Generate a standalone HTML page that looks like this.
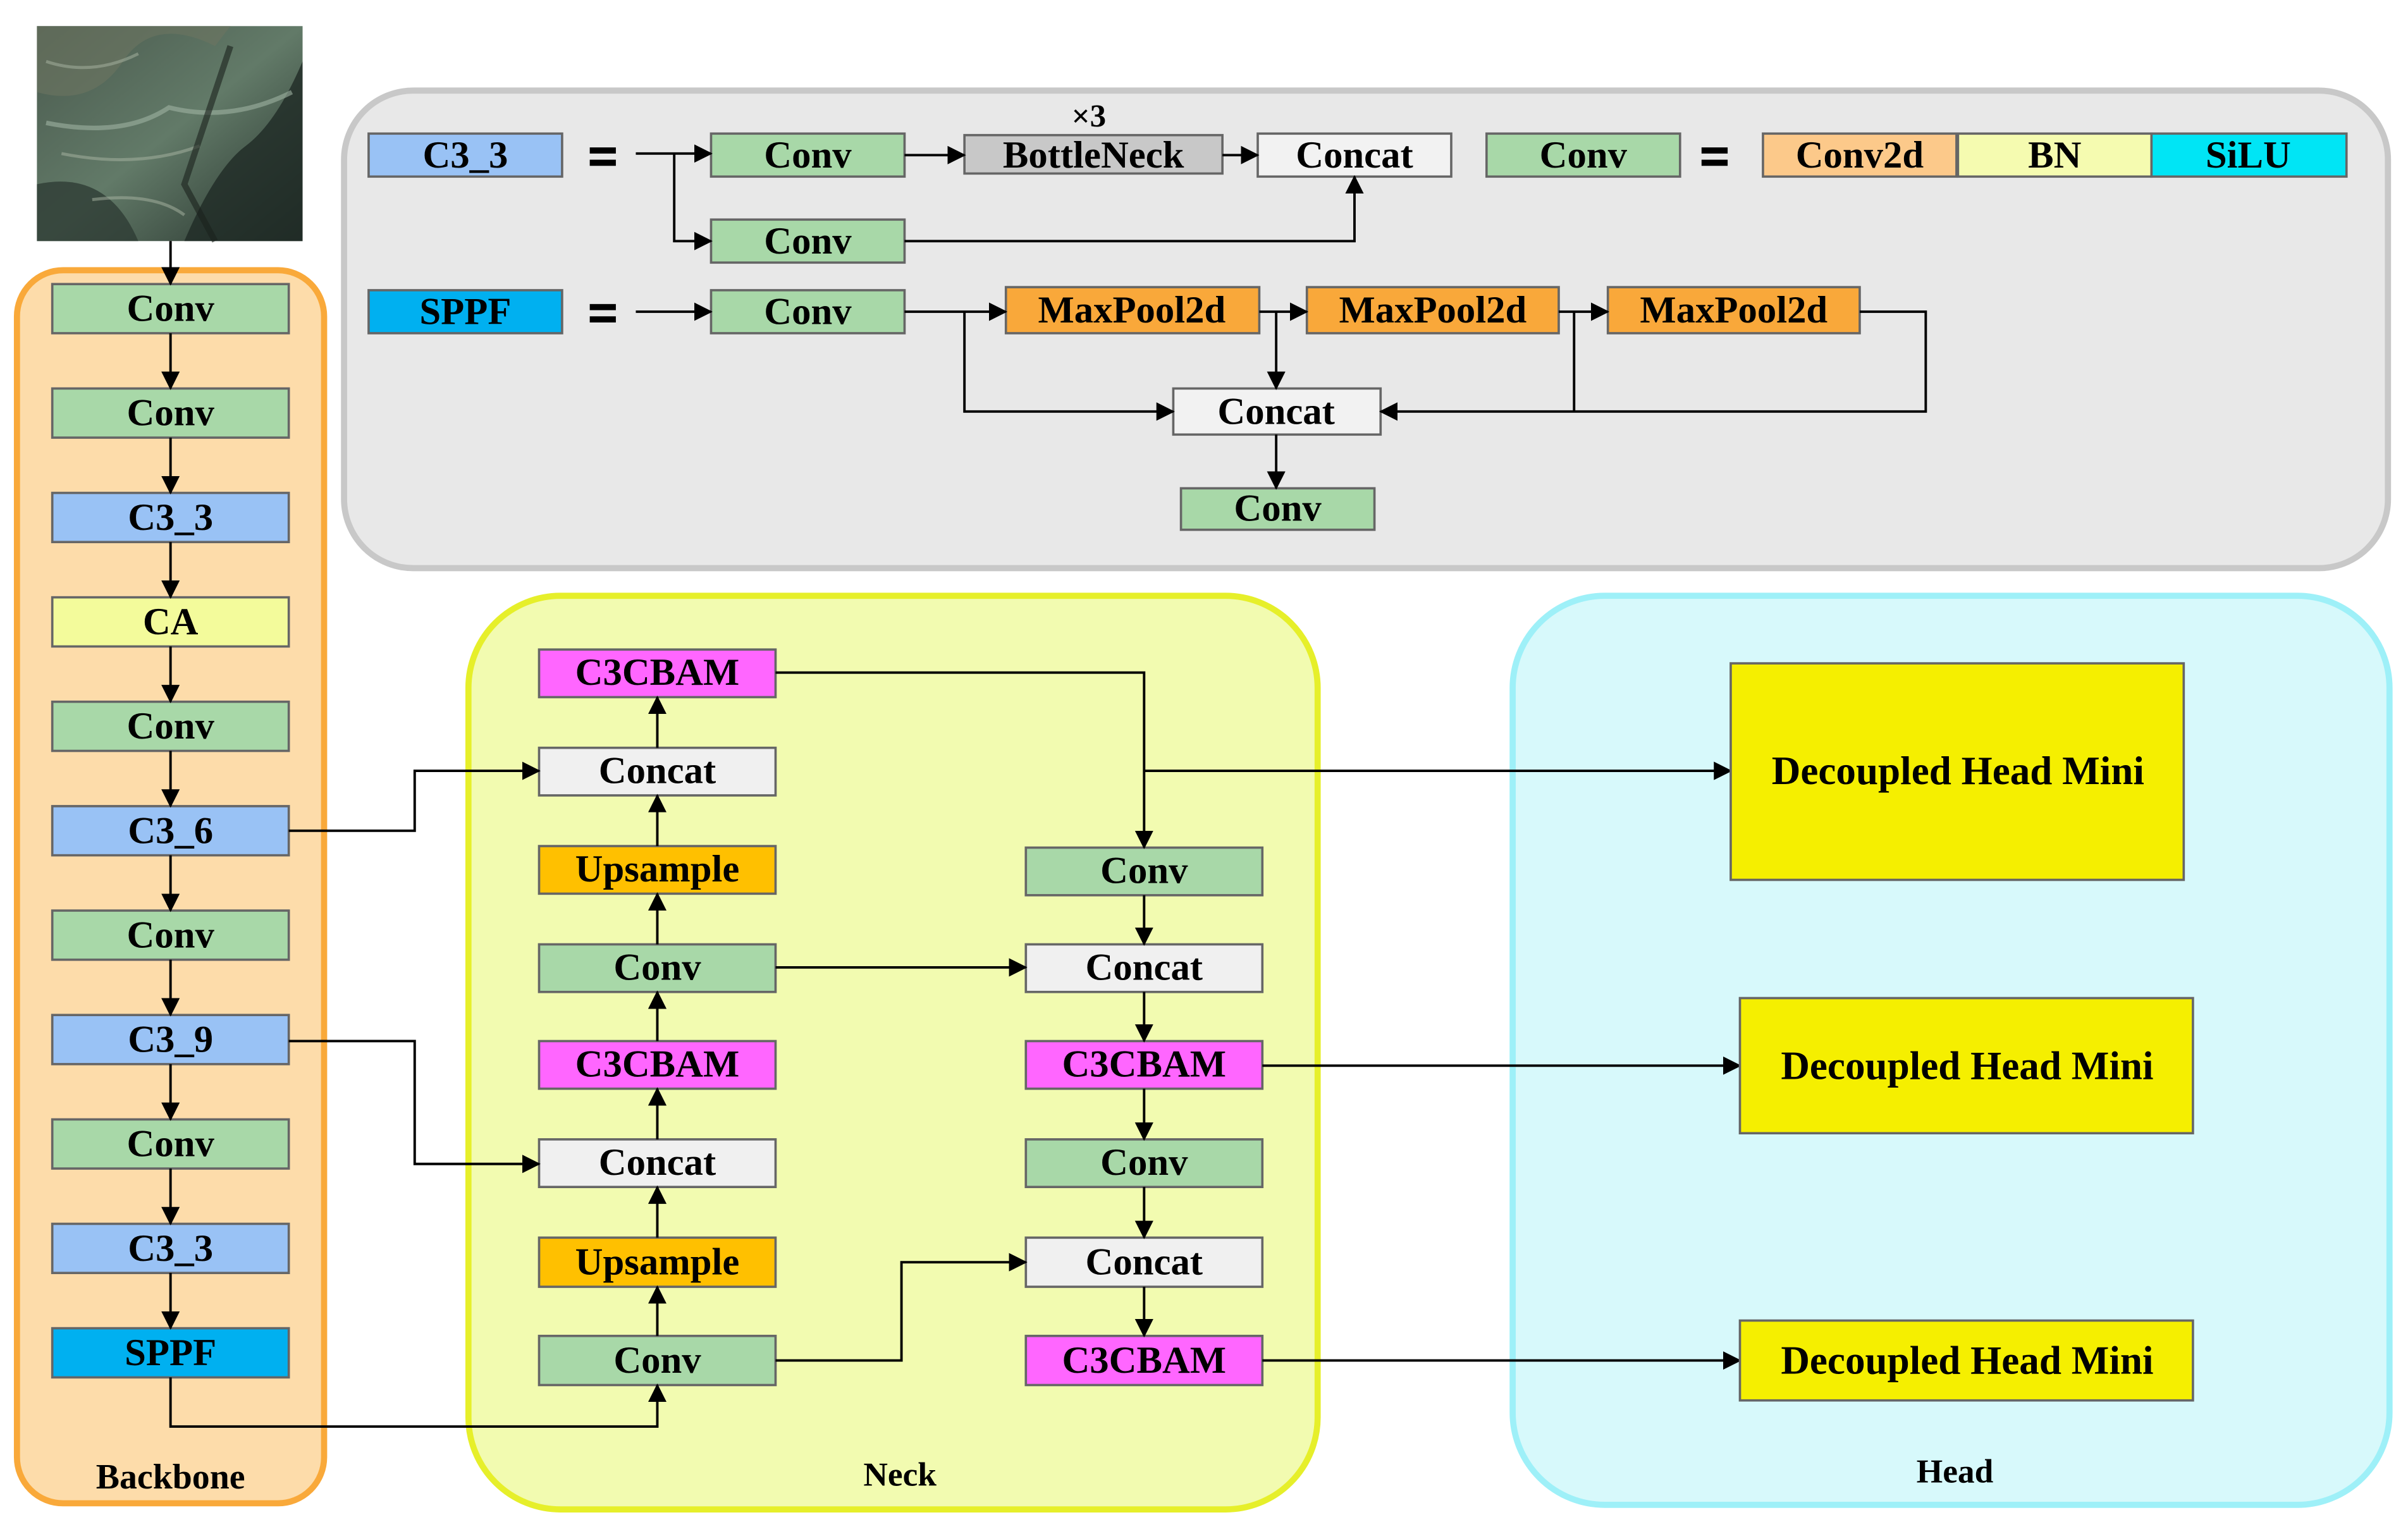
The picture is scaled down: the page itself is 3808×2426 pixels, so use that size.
<!DOCTYPE html>
<html><head><meta charset="utf-8"><style>html,body{margin:0;padding:0;background:#fff}svg{display:block}</style></head><body>
<svg width="3808" height="2426" viewBox="0 0 1568 999" xmlns="http://www.w3.org/2000/svg">
<defs>
<marker id="a" markerWidth="12" markerHeight="12" refX="11" refY="6" orient="auto" markerUnits="userSpaceOnUse"><path d="M0,0 L12,6 L0,12 z" fill="#000"/></marker>
<linearGradient id="ph" x1="0" y1="0" x2="1" y2="1"><stop offset="0" stop-color="#4a5a4e"/><stop offset="0.5" stop-color="#627a68"/><stop offset="1" stop-color="#26322c"/></linearGradient>
</defs>
<style>
text{font-family:"Liberation Serif",serif;font-weight:bold;fill:#000;text-anchor:middle;dominant-baseline:central}
.b{stroke:#666;stroke-width:1.5}
.t{font-size:25px}
.l{fill:none;stroke:#000;stroke-width:1.6}
</style>
<!-- photo -->
<rect x="24" y="17" width="173" height="140" fill="url(#ph)"/>
<path d="M24,60 Q60,70 80,40 T140,30 L150,17 L24,17z" fill="#6d7560" opacity="0.6"/>
<path d="M120,157 Q140,110 160,95 T197,40 L197,157z" fill="#1f2b25" opacity="0.8"/>
<path d="M24,120 Q70,110 90,157 L24,157z" fill="#2e3c34" opacity="0.8"/>
<path d="M30,80 Q80,90 110,70 Q150,80 190,60" stroke="#9fb3a2" stroke-width="3" fill="none" opacity="0.6"/>
<path d="M30,40 Q60,50 90,35 M40,100 Q90,110 130,95 M60,130 Q100,125 120,140" stroke="#a9b6a4" stroke-width="2" fill="none" opacity="0.5"/>
<path d="M150,30 L120,120 L140,157" stroke="#1a221d" stroke-width="4" fill="none" opacity="0.6"/>
<!-- panels -->
<rect x="224" y="59" width="1331" height="311" rx="45" fill="#e8e8e8" stroke="#c8c8c8" stroke-width="4"/>
<rect x="11" y="176" width="200" height="803" rx="30" fill="#fddcaa" stroke="#f9a93a" stroke-width="4"/>
<rect x="305" y="388" width="553" height="595" rx="60" fill="#f2fbb0" stroke="#e6ef2a" stroke-width="4"/>
<rect x="985" y="388" width="571" height="592" rx="60" fill="#d7f9fb" stroke="#9ef0f8" stroke-width="4"/>
<text x="111" y="962" style="font-size:23px">Backbone</text>
<text x="586" y="960" style="font-size:22px">Neck</text>
<text x="1273" y="958" style="font-size:22px">Head</text>

<!-- backbone -->
<g class="t">
<rect class="b" x="34" y="185" width="154" height="32" fill="#a8d8a8"/><text x="111" y="201">Conv</text>
<rect class="b" x="34" y="253" width="154" height="32" fill="#a8d8a8"/><text x="111" y="269">Conv</text>
<rect class="b" x="34" y="321" width="154" height="32" fill="#99c2f5"/><text x="111" y="337">C3_3</text>
<rect class="b" x="34" y="389" width="154" height="32" fill="#f3fb9b"/><text x="111" y="405">CA</text>
<rect class="b" x="34" y="457" width="154" height="32" fill="#a8d8a8"/><text x="111" y="473">Conv</text>
<rect class="b" x="34" y="525" width="154" height="32" fill="#99c2f5"/><text x="111" y="541">C3_6</text>
<rect class="b" x="34" y="593" width="154" height="32" fill="#a8d8a8"/><text x="111" y="609">Conv</text>
<rect class="b" x="34" y="661" width="154" height="32" fill="#99c2f5"/><text x="111" y="677">C3_9</text>
<rect class="b" x="34" y="729" width="154" height="32" fill="#a8d8a8"/><text x="111" y="745">Conv</text>
<rect class="b" x="34" y="797" width="154" height="32" fill="#99c2f5"/><text x="111" y="813">C3_3</text>
<rect class="b" x="34" y="865" width="154" height="32" fill="#00b0f0"/><text x="111" y="881">SPPF</text>
</g>
<g class="l" marker-end="url(#a)">
<line x1="111" y1="157" x2="111" y2="185"/>
<line x1="111" y1="217" x2="111" y2="253"/>
<line x1="111" y1="285" x2="111" y2="321"/>
<line x1="111" y1="353" x2="111" y2="389"/>
<line x1="111" y1="421" x2="111" y2="457"/>
<line x1="111" y1="489" x2="111" y2="525"/>
<line x1="111" y1="557" x2="111" y2="593"/>
<line x1="111" y1="625" x2="111" y2="661"/>
<line x1="111" y1="693" x2="111" y2="729"/>
<line x1="111" y1="761" x2="111" y2="797"/>
<line x1="111" y1="829" x2="111" y2="865"/>
</g>

<!-- top panel -->
<g class="t">
<rect class="b" x="240" y="87" width="126" height="28" fill="#99c2f5"/><text x="303" y="101">C3_3</text>
<rect x="384" y="96" width="17" height="4" fill="#000"/><rect x="384" y="104" width="17" height="4" fill="#000"/>
<rect class="b" x="463" y="87" width="126" height="28" fill="#a8d8a8"/><text x="526" y="101">Conv</text>
<rect class="b" x="463" y="143" width="126" height="28" fill="#a8d8a8"/><text x="526" y="157">Conv</text>
<rect class="b" x="628" y="88" width="168" height="25" fill="#c8c8c8"/><text x="712" y="101">BottleNeck</text>
<text x="709" y="76" style="font-size:21px">×3</text>
<rect class="b" x="819" y="87" width="126" height="28" fill="#f2f2f2"/><text x="882" y="101">Concat</text>
<rect class="b" x="968" y="87" width="126" height="28" fill="#a8d8a8"/><text x="1031" y="101">Conv</text>
<rect x="1108" y="96" width="17" height="4" fill="#000"/><rect x="1108" y="104" width="17" height="4" fill="#000"/>
<rect class="b" x="1148" y="87" width="126" height="28" fill="#fcc98a"/><text x="1211" y="101">Conv2d</text>
<rect class="b" x="1275" y="87" width="126" height="28" fill="#f5fbb0"/><text x="1338" y="101">BN</text>
<rect class="b" x="1401" y="87" width="127" height="28" fill="#00e5f5"/><text x="1464" y="101">SiLU</text>
<rect class="b" x="240" y="189" width="126" height="28" fill="#00b0f0"/><text x="303" y="203">SPPF</text>
<rect x="384" y="198" width="17" height="4" fill="#000"/><rect x="384" y="206" width="17" height="4" fill="#000"/>
<rect class="b" x="463" y="189" width="126" height="28" fill="#a8d8a8"/><text x="526" y="203">Conv</text>
<rect class="b" x="655" y="187" width="165" height="30" fill="#f9a83a"/><text x="737" y="202">MaxPool2d</text>
<rect class="b" x="851" y="187" width="164" height="30" fill="#f9a83a"/><text x="933" y="202">MaxPool2d</text>
<rect class="b" x="1047" y="187" width="164" height="30" fill="#f9a83a"/><text x="1129" y="202">MaxPool2d</text>
<rect class="b" x="764" y="253" width="135" height="30" fill="#f2f2f2"/><text x="831" y="268">Concat</text>
<rect class="b" x="769" y="318" width="126" height="27" fill="#a8d8a8"/><text x="832" y="331">Conv</text>
</g>
<g class="l">
<polyline points="439,100 439,157 463,157" marker-end="url(#a)"/>
<line x1="414" y1="100" x2="463" y2="100" marker-end="url(#a)"/>
<line x1="589" y1="101" x2="628" y2="101" marker-end="url(#a)"/>
<line x1="796" y1="101" x2="819" y2="101" marker-end="url(#a)"/>
<polyline points="589,157 882,157 882,115" marker-end="url(#a)"/>
<line x1="414" y1="203" x2="463" y2="203" marker-end="url(#a)"/>
<line x1="589" y1="203" x2="655" y2="203" marker-end="url(#a)"/>
<polyline points="628,203 628,268 764,268" marker-end="url(#a)"/>
<line x1="820" y1="203" x2="851" y2="203" marker-end="url(#a)"/>
<line x1="831" y1="203" x2="831" y2="253" marker-end="url(#a)"/>
<line x1="1015" y1="203" x2="1047" y2="203" marker-end="url(#a)"/>
<line x1="1025" y1="203" x2="1025" y2="268"/>
<polyline points="1211,203 1254,203 1254,268 899,268" marker-end="url(#a)"/>
<line x1="831" y1="283" x2="831" y2="318" marker-end="url(#a)"/>
</g>

<!-- neck -->
<g class="t">
<rect class="b" x="351" y="423" width="154" height="31" fill="#ff66ff"/><text x="428" y="438">C3CBAM</text>
<rect class="b" x="351" y="487" width="154" height="31" fill="#f0f0f0"/><text x="428" y="502">Concat</text>
<rect class="b" x="351" y="551" width="154" height="31" fill="#ffc000"/><text x="428" y="566">Upsample</text>
<rect class="b" x="351" y="615" width="154" height="31" fill="#a8d8a8"/><text x="428" y="630">Conv</text>
<rect class="b" x="351" y="678" width="154" height="31" fill="#ff66ff"/><text x="428" y="693">C3CBAM</text>
<rect class="b" x="351" y="742" width="154" height="31" fill="#f0f0f0"/><text x="428" y="757">Concat</text>
<rect class="b" x="351" y="806" width="154" height="32" fill="#ffc000"/><text x="428" y="822">Upsample</text>
<rect class="b" x="351" y="870" width="154" height="32" fill="#a8d8a8"/><text x="428" y="886">Conv</text>
<rect class="b" x="668" y="552" width="154" height="31" fill="#a8d8a8"/><text x="745" y="567">Conv</text>
<rect class="b" x="668" y="615" width="154" height="31" fill="#f0f0f0"/><text x="745" y="630">Concat</text>
<rect class="b" x="668" y="678" width="154" height="31" fill="#ff66ff"/><text x="745" y="693">C3CBAM</text>
<rect class="b" x="668" y="742" width="154" height="31" fill="#a8d8a8"/><text x="745" y="757">Conv</text>
<rect class="b" x="668" y="806" width="154" height="32" fill="#f0f0f0"/><text x="745" y="822">Concat</text>
<rect class="b" x="668" y="870" width="154" height="32" fill="#ff66ff"/><text x="745" y="886">C3CBAM</text>
</g>
<g class="l" marker-end="url(#a)">
<line x1="428" y1="870" x2="428" y2="838"/>
<line x1="428" y1="806" x2="428" y2="773"/>
<line x1="428" y1="742" x2="428" y2="709"/>
<line x1="428" y1="678" x2="428" y2="646"/>
<line x1="428" y1="615" x2="428" y2="582"/>
<line x1="428" y1="551" x2="428" y2="518"/>
<line x1="428" y1="487" x2="428" y2="454"/>
<line x1="745" y1="583" x2="745" y2="615"/>
<line x1="745" y1="646" x2="745" y2="678"/>
<line x1="745" y1="709" x2="745" y2="742"/>
<line x1="745" y1="773" x2="745" y2="806"/>
<line x1="745" y1="838" x2="745" y2="870"/>
<polyline points="188,541 270,541 270,502 351,502"/>
<polyline points="188,678 270,678 270,758 351,758"/>
<polyline points="111,897 111,929 428,929 428,902"/>
<polyline points="505,438 745,438 745,552"/>
<line x1="745" y1="502" x2="1127" y2="502"/>
<line x1="505" y1="630" x2="668" y2="630"/>
<polyline points="505,886 587,886 587,822 668,822"/>
<line x1="822" y1="694" x2="1133" y2="694"/>
<line x1="822" y1="886" x2="1133" y2="886"/>
</g>

<!-- head -->
<g style="font-size:26px">
<rect class="b" x="1127" y="432" width="295" height="141" fill="#f5ef00"/><text x="1275" y="502">Decoupled Head Mini</text>
<rect class="b" x="1133" y="650" width="295" height="88" fill="#f5ef00"/><text x="1281" y="694">Decoupled Head Mini</text>
<rect class="b" x="1133" y="860" width="295" height="52" fill="#f5ef00"/><text x="1281" y="886">Decoupled Head Mini</text>
</g>
</svg>
</body></html>
